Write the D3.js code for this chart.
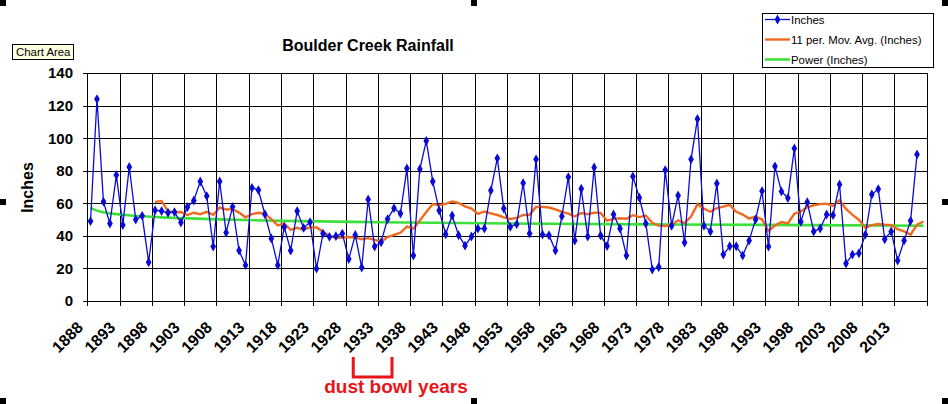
<!DOCTYPE html>
<html>
<head>
<meta charset="utf-8">
<script src="https://cdn.jsdelivr.net/npm/d3@7"></script>
<style>
body { margin: 0; background: #fff; }
svg { display: block; font-family: "Liberation Sans", Arial, sans-serif; }
</style>
</head>
<body>
<svg id="chart" width="948" height="404"></svg>
<script>
// Data //
const years = d3.range(1888, 2018)

const inches = [
    49, 124, 61, 47.6, 77.3, 46.6, 82.3, 50, 52.3, 23.8,
    55.8, 55.2, 54.2, 54.6, 48.2, 57.6, 61.7, 73.4, 64.4, 33.4,
    73.4, 42, 57.8, 31, 22, 69.5, 68.1, 53.3, 38.4, 22,
    45.5, 31, 55.2, 44.9, 48.4, 19.9, 41.4, 39.4, 39.8, 41.4,
    25.8, 40.6, 20.5, 62.4, 33.4, 36.1, 50.3, 57, 53.7, 81.4,
    27.9, 81, 98.3, 73.4, 55.6, 41, 52.5, 40.4, 34, 39.6,
    44.5, 44.5, 67.9, 87.6, 56.8, 45.5, 47.2, 72.4, 41.4, 87,
    40.8, 40.4, 31, 52.1, 76.1, 37.1, 68.9, 39.6, 82, 40.2,
    33.8, 53.1, 44.5, 27.9, 76.5, 63.4, 47.6, 19.3, 20.9, 80.4,
    46.2, 64.8, 35.9, 87, 111.8, 46.2, 42.7, 72.2, 28.5, 33.6,
    33.6, 27.9, 37.1, 50.1, 67.5, 33.4, 82.7, 67.3, 63.2, 93.7,
    48.6, 60.7, 42.7, 44.5, 53.1, 52.7, 71.6, 23, 28.5, 29.3,
    40.8, 65.4, 68.7, 37.9, 42.7, 24.8, 37.1, 49.2, 90
]

// 11 period moving average, starts 1898
const movAvgStart = 1898
const movAvg = [
    60.9, 61.4, 55.1, 54.5, 54.6, 52.8, 54.2, 53.3, 54.7, 52.9,
    57.4, 56.2, 56.4, 54.3, 51.4, 53.3, 54.2, 53.5, 50.3, 46.4,
    47.5, 43.7, 44.9, 43.7, 45.3, 45.1, 42.6, 39.9, 38.7, 39.0,
    39.3, 38.9, 37.9, 38.6, 37.5, 36.4, 39.2, 40.6, 41.9, 45.7,
    44.5, 49.5, 54.7, 59.5, 58.9, 59.6, 61.1, 60.2, 58.1, 56.8,
    53.5, 55.0, 53.8, 52.8, 51.3, 50.4, 51.0, 52.8, 52.9, 57.7,
    57.8, 57.4, 56.2, 54.7, 53.7, 51.9, 54.0, 53.3, 54.2, 54.1,
    49.3, 50.4, 50.8, 50.5, 52.7, 51.5, 52.5, 48.0, 46.3, 46.1,
    46.7, 49.5, 47.9, 51.8, 59.4, 56.7, 54.8, 57.0, 57.9, 59.0,
    54.8, 53.1, 50.6, 51.9, 50.1, 43.0, 46.3, 48.5, 47.7, 53.6,
    55.0, 57.5, 58.8, 59.5, 59.8, 58.4, 61.9, 56.5, 52.9, 49.9,
    45.0, 46.6, 47.3, 46.9, 46.7, 44.1, 42.7, 40.7, 46.8, 48.8
]

// power trendline
const powerYears = [1888, 1889, 1890, 1891, 1893, 1896, 1900, 1908, 1918, 1933, 1953, 1978, 2000, 2017]
const powerValues = [57.2, 55.5, 54.5, 53.8, 53.0, 52.0, 51.2, 50.1, 49.2, 48.4, 47.6, 47.0, 46.6, 46.2]

const yTicks = [0, 20, 40, 60, 80, 100, 120, 140]
const xLabels = ["1888", "1893", "1898", "1903", "1908", "1913", "1918", "1923", "1928", "1933",
    "1938", "1943", "1948", "1953", "1958", "1963", "1968", "1973", "1978", "1983",
    "1988", "1993", "1998", "2003", "2008", "2013"]
const dustBowl = [1929, 1935]

const legendItems = ["Inches", "11 per. Mov. Avg. (Inches)", "Power (Inches)"]

// Scales //
const svg = d3.select("#chart")
const plotLeft = 87.3, plotRight = 926.7, plotTop = 73, plotBottom = 301

const x = d3.scaleBand().domain(years).range([plotLeft, plotRight]).padding(0)
const xc = d => x(d) + x.bandwidth() / 2
const y = d3.scaleLinear().domain([0, 140]).range([plotBottom, plotTop])
const snap = v => Math.round(v) + 0.5

const blue = "#0a0ad8"
const orange = "#f06a1e"
const green = "#3be03b"

// Grid //
const grid = svg.append("g").attr("shape-rendering", "crispEdges")
grid.selectAll("line.h")
    .data(yTicks)
    .enter().append("line")
    .attr("x1", 83).attr("x2", snap(plotRight))
    .attr("y1", d => snap(y(d))).attr("y2", d => snap(y(d)))
    .attr("stroke", "#000")

const vTicks = years.filter(d => (d - 1888) % 5 === 0)
grid.selectAll("line.v")
    .data(vTicks)
    .enter().append("line")
    .attr("x1", d => snap(x(d))).attr("x2", d => snap(x(d)))
    .attr("y1", snap(plotTop)).attr("y2", 306)
    .attr("stroke", "#000")
grid.append("line")
    .attr("x1", snap(plotRight)).attr("x2", snap(plotRight))
    .attr("y1", snap(plotTop)).attr("y2", 306)
    .attr("stroke", "#000")

// Y axis labels //
svg.append("g").selectAll("text")
    .data(yTicks)
    .enter().append("text")
    .attr("x", 73)
    .attr("y", d => y(d))
    .attr("dy", "0.36em")
    .attr("text-anchor", "end")
    .attr("font-size", 15)
    .attr("font-weight", "bold")
    .text(d => d)

// X axis labels //
svg.append("g").selectAll("text")
    .data(xLabels)
    .enter().append("text")
    .attr("transform", d => "translate(" + (xc(+d) - 6.5) + ",328.5) rotate(-45)")
    .attr("text-anchor", "end")
    .attr("font-size", 16)
    .attr("font-weight", "bold")
    .text(d => d)

// Titles //
svg.append("text")
    .attr("x", 368).attr("y", 50.5)
    .attr("text-anchor", "middle")
    .attr("font-size", 16)
    .attr("font-weight", "bold")
    .text("Boulder Creek Rainfall")

svg.append("text")
    .attr("transform", "translate(33,187.5) rotate(-90)")
    .attr("text-anchor", "middle")
    .attr("font-size", 16)
    .attr("font-weight", "bold")
    .text("Inches")

// Series //
const rain = inches.map((v, i) => [years[i], v])
const avg = movAvg.map((v, i) => [movAvgStart + i, v])
const power = powerValues.map((v, i) => [powerYears[i], v])

svg.append("path")
    .datum(power)
    .attr("d", d3.line().x(d => xc(d[0])).y(d => y(d[1])).curve(d3.curveMonotoneX))
    .attr("fill", "none")
    .attr("stroke", green)
    .attr("stroke-width", 2.6)

svg.append("path")
    .datum(avg)
    .attr("d", d3.line().x(d => xc(d[0])).y(d => y(d[1])))
    .attr("fill", "none")
    .attr("stroke", orange)
    .attr("stroke-width", 2.4)

svg.append("path")
    .datum(rain)
    .attr("d", d3.line().x(d => xc(d[0])).y(d => y(d[1])))
    .attr("fill", "none")
    .attr("stroke", blue)
    .attr("stroke-width", 1.3)

const diamond = d3.symbol().type(d3.symbolDiamond).size(28)
svg.append("g").selectAll("path")
    .data(rain)
    .enter().append("path")
    .attr("transform", d => "translate(" + xc(d[0]) + "," + y(d[1]) + ")")
    .attr("d", diamond)
    .attr("fill", blue)

// Dust bowl note //
const bx0 = xc(dustBowl[0]) - 2, bx1 = xc(dustBowl[1]) - 2
svg.append("path")
    .attr("d", "M" + bx0 + ",357V377H" + bx1 + "V357")
    .attr("fill", "none")
    .attr("stroke", "#e8141a")
    .attr("stroke-width", 3)

svg.append("text")
    .attr("x", 396).attr("y", 393)
    .attr("text-anchor", "middle")
    .attr("font-size", 19)
    .attr("font-weight", "bold")
    .attr("fill", "#e8141a")
    .text("dust bowl years")

// Legend //
const legend = svg.append("g")
legend.append("rect")
    .attr("x", 762.5).attr("y", 13.5)
    .attr("width", 171).attr("height", 54)
    .attr("fill", "#fff").attr("stroke", "#000")

const legendColors = [blue, orange, green]
const legendWidths = [1.3, 2.4, 2.6]
legendItems.forEach((name, i) => {
    const ly = 19.5 + i * 20
    legend.append("line")
        .attr("x1", 765).attr("x2", 790)
        .attr("y1", ly).attr("y2", ly)
        .attr("stroke", legendColors[i])
        .attr("stroke-width", legendWidths[i])
    if (i === 0) {
        legend.append("path")
            .attr("transform", "translate(777.5," + ly + ")")
            .attr("d", diamond)
            .attr("fill", blue)
    }
    legend.append("text")
        .attr("x", 791).attr("y", ly + 4)
        .attr("font-size", 11.4)
        .text(name)
})

// Chart Area tip //
svg.append("rect")
    .attr("x", 12.5).attr("y", 44.5)
    .attr("width", 61).attr("height", 15)
    .attr("fill", "#ffffe1").attr("stroke", "#000")
svg.append("text")
    .attr("x", 16).attr("y", 56)
    .attr("font-size", 11.4)
    .text("Chart Area")

// Selection handles //
const handles = [[0, 0], [471, 0], [942, 0], [0, 199], [942, 199], [0, 398], [471, 398], [942, 398]]
svg.append("g").selectAll("rect")
    .data(handles)
    .enter().append("rect")
    .attr("x", d => d[0]).attr("y", d => d[1])
    .attr("width", 6).attr("height", 6)
    .attr("fill", "#000")
</script>
</body>
</html>
